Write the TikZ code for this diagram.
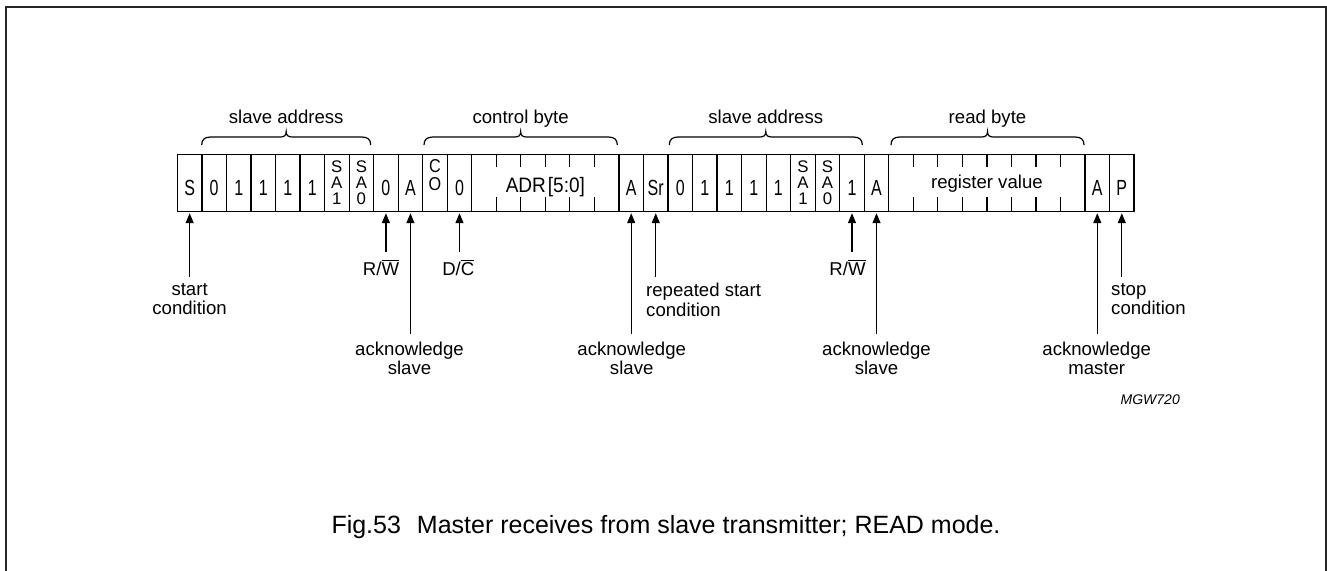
\documentclass[tikz,border=0pt]{standalone}
\usepackage{fontspec}
\setmainfont{Liberation Sans}
\usepackage{graphicx}
\usetikzlibrary{arrows.meta}
\newcommand\tallch[1]{\scalebox{1}[1.37]{#1}}
\newcommand\coch[1]{\scalebox{1}[1.15]{#1}}
\newcommand\stackthree[3]{\vbox{\baselineskip=15.6pt\lineskiplimit=-20pt\hbox to 16pt{\hss#1\hss}\hbox to 16pt{\hss#2\hss}\hbox to 16pt{\hss#3\hss}}}
\newcommand\stacktwo[2]{\vbox{\baselineskip=17.5pt\lineskiplimit=-20pt\hbox to 16pt{\hss\coch{#1}\hss}\hbox to 16pt{\hss\coch{#2}\hss}}}
\newcommand\ovl[1]{\vbox{\hrule height 1.1pt\kern1.3pt\hbox{#1}}}
\newcommand\curly[4]{%
  \pgfmathsetmacro\xm{(#1+#2)/2}%
  \draw[brc] (#1,145) .. controls (#1,139.5) and (#1+3,137) .. (#1+9,137)
     -- (\xm-6,137) .. controls (\xm-2,137) and (\xm,135.5) .. (\xm,131.5)
     .. controls (\xm,135.5) and (\xm+2,137) .. (\xm+6,137)
     -- (#2-9,137) .. controls (#2-3,137) and (#2,139.5) .. (#2,145);
  \node[lbl,anchor=base] (#3) at (\xm,123.3) {#4};
}
\begin{document}
\begin{tikzpicture}[x=1pt,y=-1pt,
  cell/.style={draw, line width=1.2pt, minimum width=24.53pt, minimum height=57pt,
    inner sep=0pt, outer sep=0pt, anchor=north west,
    font=\fontsize{16}{18}\selectfont, text height=24.2pt, text depth=0pt},
  sa/.style={cell, font=\fontsize{16.8}{16}\selectfont, text height=41.6pt},
  co/.style={cell, font=\fontsize{16.2}{16}\selectfont, text height=13.6pt},
  wide/.style={cell, font=\fontsize{18.6}{20}\selectfont, text height=14pt, text depth=3pt},
  lbl/.style={font=\fontsize{18.6}{19.5}\selectfont, inner sep=0pt},
  brc/.style={line width=1.2pt},
  tick/.style={line width=1.2pt},
  frame/.style={line width=2pt, draw=black!85},
  arr/.style={line width=1.3pt, -{Triangle[length=10pt,width=8pt]}, shorten >=1.5pt}]
\useasboundingbox (0,0) rectangle (1327,570);
\draw[frame] (5.5,580) -- (5.5,6.5) -- (1325.5,6.5) -- (1325.5,580);
\def\X{177.4}\def\W{24.53}\def\Y{154.7}
% first address byte
\node[cell] (c1) at ({\X+0*\W},\Y) {\tallch{S}};
\node[cell] (c2) at ({\X+1*\W},\Y) {\tallch{0}};
\node[cell] (c3) at ({\X+2*\W},\Y) {\tallch{1}};
\node[cell] (c4) at ({\X+3*\W},\Y) {\tallch{1}};
\node[cell] (c5) at ({\X+4*\W},\Y) {\tallch{1}};
\node[cell] (c6) at ({\X+5*\W},\Y) {\tallch{1}};
\node[sa] (c7) at ({\X+6*\W},\Y) {\stackthree{S}{A}{1}};
\node[sa] (c8) at ({\X+7*\W},\Y) {\stackthree{S}{A}{0}};
\node[cell] (c9) at ({\X+8*\W},\Y) {\tallch{0}};
\node[cell] (c10) at ({\X+9*\W},\Y) {\tallch{A}};
% control byte
\node[co] (c11) at ({\X+10*\W},\Y) {\stacktwo{C}{O}};
\node[cell] (c12) at ({\X+11*\W},\Y) {\tallch{0}};
\node[wide, minimum width=147.18pt, text height=19pt, text depth=0pt,
      font=\fontsize{19}{20}\selectfont] (adr) at ({\X+12*\W},\Y) {\scalebox{1}[1.1]{ADR\hspace{2pt}[5:0]}};
\foreach \k in {1,...,5} {
  \draw[tick] ([xshift=\k*\W]adr.north west) -- ++(0,12);
  \draw[tick] ([xshift=\k*\W]adr.south west) -- ++(0,-15);
}
\node[cell] (c19) at ({\X+18*\W},\Y) {\tallch{A}};
% second address byte
\node[cell] (c20) at ({\X+19*\W},\Y) {\tallch{Sr}};
\node[cell] (c21) at ({\X+20*\W},\Y) {\tallch{0}};
\node[cell] (c22) at ({\X+21*\W},\Y) {\tallch{1}};
\node[cell] (c23) at ({\X+22*\W},\Y) {\tallch{1}};
\node[cell] (c24) at ({\X+23*\W},\Y) {\tallch{1}};
\node[cell] (c25) at ({\X+24*\W},\Y) {\tallch{1}};
\node[sa] (c26) at ({\X+25*\W},\Y) {\stackthree{S}{A}{1}};
\node[sa] (c27) at ({\X+26*\W},\Y) {\stackthree{S}{A}{0}};
\node[cell] (c28) at ({\X+27*\W},\Y) {\tallch{1}};
\node[cell] (c29) at ({\X+28*\W},\Y) {\tallch{A}};
% read byte
\node[wide, minimum width=196.24pt] (reg) at ({\X+29*\W},\Y) {register value};
\foreach \k in {1,...,7} {
  \draw[tick] ([xshift=\k*\W]reg.north west) -- ++(0,12);
  \draw[tick] ([xshift=\k*\W]reg.south west) -- ++(0,-15);
}
\node[cell] (c38) at ({\X+37*\W},\Y) {\tallch{A}};
\node[cell] (c39) at ({\X+38*\W},\Y) {\tallch{P}};
% braces
\curly{201.7}{370.7}{b1}{slave address}
\curly{424}{617.3}{b2}{control byte}
\curly{669.3}{862.3}{b3}{slave address}
\curly{891}{1084}{b4}{read byte}
% arrow tails
\coordinate (e1) at ({\X+0.5*\W},277);
\coordinate (e9) at ({\X+8.5*\W},252);
\coordinate (e10) at ({\X+9.5*\W},334);
\coordinate (e12) at ({\X+11.5*\W},252);
\coordinate (e19) at ({\X+18.5*\W},334);
\coordinate (e20) at ({\X+19.5*\W},277);
\coordinate (e28) at ({\X+27.5*\W},252);
\coordinate (e29) at ({\X+28.5*\W},334);
\coordinate (e38) at ({\X+37.5*\W},334);
\coordinate (e39) at ({\X+38.5*\W},277);
\draw[arr] (e1) -- (c1.south);
\draw[arr] (e9) -- (c9.south);
\draw[arr] (e10) -- (c10.south);
\draw[arr] (e12) -- (c12.south);
\draw[arr] (e19) -- (c19.south);
\draw[arr] (e20) -- (c20.south);
\draw[arr] (e28) -- (c28.south);
\draw[arr] (e29) -- (c29.south);
\draw[arr] (e38) -- (c38.south);
\draw[arr] (e39) -- (c39.south);
% labels
\node[lbl, align=center, anchor=north] (t1) at (189.6,283) {start\\condition};
\node[lbl, anchor=base] (t9) at (381,275) {R/\ovl{W}};
\node[lbl, align=center, anchor=north] (t10) at (409.5,341.7) {acknowledge\\slave};
\node[lbl, anchor=base] (t12) at (458.3,275) {D/\ovl{C}};
\node[lbl, align=center, anchor=north] (t19) at (631.7,341.7) {acknowledge\\slave};
\node[lbl, align=left, anchor=north west] (t20) at (646,283) {repeated start\\condition};
\node[lbl, anchor=base] (t28) at (847.5,275) {R/\ovl{W}};
\node[lbl, align=center, anchor=north] (t29) at (876.5,341.7) {acknowledge\\slave};
\node[lbl, align=center, anchor=north] (t38) at (1096.7,341.7) {acknowledge\\master};
\node[lbl, align=left, anchor=north west] (t39) at (1111,283) {stop\\condition};
\node[font=\fontsize{14}{16}\selectfont\itshape, anchor=base east, inner sep=0pt] (code) at (1180,404) {MGW720};
\node[font=\fontsize{25}{28}\selectfont, anchor=base, inner sep=0pt] (cap) at (666,533.3) {Fig.53\hspace{16pt}Master receives from slave transmitter; READ mode.};
\end{tikzpicture}
\end{document}
